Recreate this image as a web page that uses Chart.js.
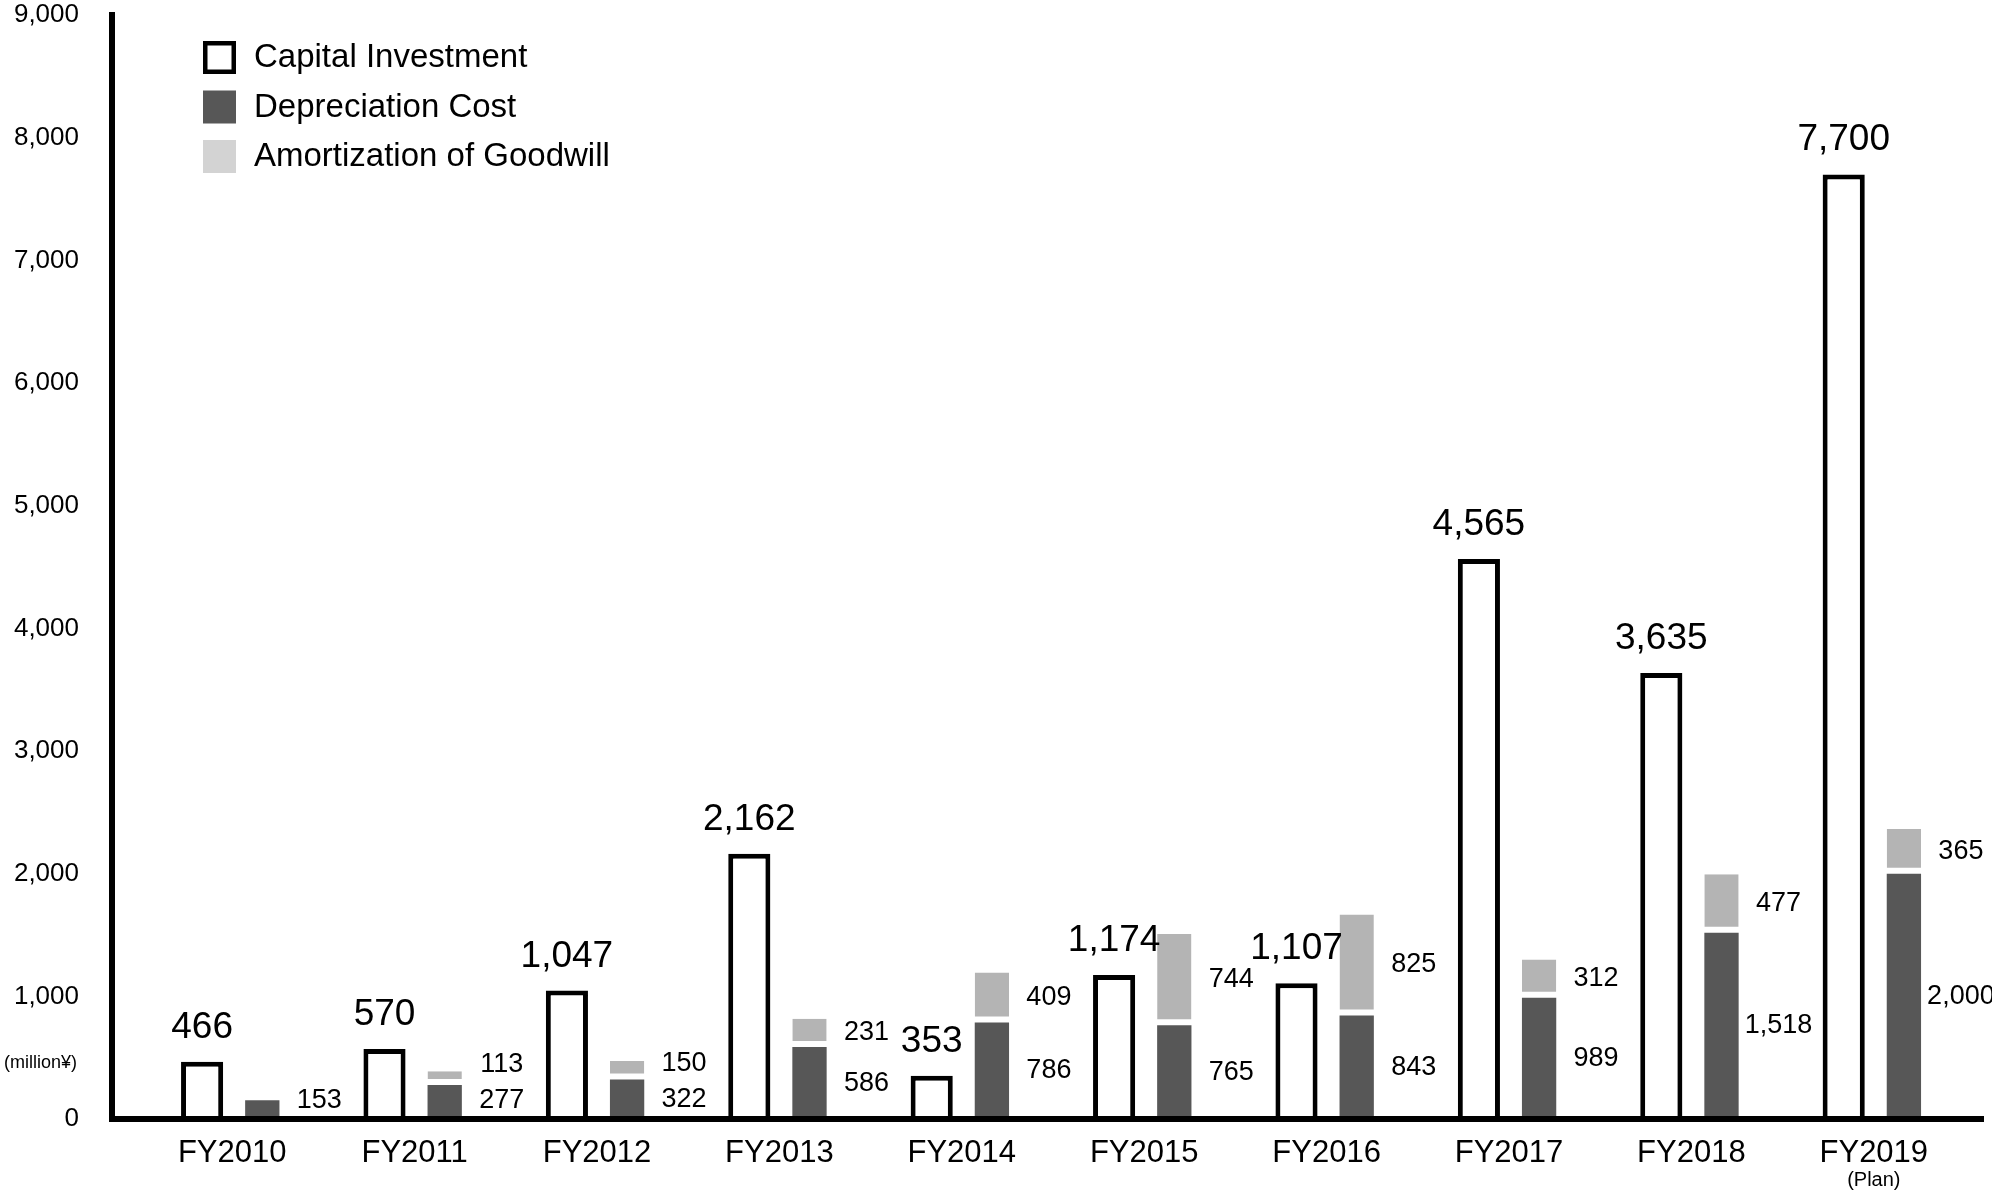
<!DOCTYPE html>
<html>
<head>
<meta charset="utf-8">
<title>Capital Investment / Depreciation Cost / Amortization of Goodwill</title>
<script src="https://cdn.jsdelivr.net/npm/chart.js@4/dist/chart.umd.min.js"></script>
<style>
  html, body { margin: 0; padding: 0; background: #fff; }
  canvas { display: block; }
</style>
</head>
<body>
<canvas id="capex" width="1992" height="1196"></canvas>
<script>
// million yen, by fiscal year
const fiscalYears = ['FY2010', 'FY2011', 'FY2012', 'FY2013', 'FY2014', 'FY2015', 'FY2016', 'FY2017', 'FY2018', 'FY2019'];
const yearNotes = ['', '', '', '', '', '', '', '', '', '(Plan)'];
const capitalInvestment = [466, 570, 1047, 2162, 353, 1174, 1107, 4565, 3635, 7700];
const depreciationCost = [153, 277, 322, 586, 786, 765, 843, 989, 1518, 2000];
const goodwillAmortization = [null, 113, 150, 231, 409, 744, 825, 312, 477, 365];
const yMax = 9000;
const yStep = 1000;
const unitLabel = '(million¥)';

const FONT = '"Liberation Sans", Arial, Helvetica, sans-serif';
const fmt = v => v.toLocaleString('en-US');

Chart.defaults.font.family = FONT;
Chart.defaults.color = '#000';

// thick black axis lines, drawn over the bar bottoms
const axisLines = {
  id: 'axisLines',
  afterDatasetsDraw(chart) {
    const { ctx, chartArea: a } = chart;
    ctx.save();
    ctx.fillStyle = '#000';
    ctx.fillRect(a.left - 32, a.top - 3, 6, a.bottom - a.top + 6);
    ctx.fillRect(a.left - 32, a.bottom - 3, a.right - a.left + 51, 6);
    ctx.restore();
  }
};

// values above / beside the bars, plus unit and plan notes
const valueLabels = {
  id: 'valueLabels',
  afterDraw(chart) {
    const { ctx, chartArea: a, scales } = chart;
    const cap = chart.getDatasetMeta(0).data;
    const dep = chart.getDatasetMeta(1).data;
    const amo = chart.getDatasetMeta(2).data;
    ctx.save();
    ctx.fillStyle = '#000';
    ctx.textAlign = 'center';

    ctx.font = '37px ' + FONT;
    ctx.textBaseline = 'alphabetic';
    cap.forEach((bar, i) => ctx.fillText(fmt(capitalInvestment[i]), bar.x, bar.y - 24));

    ctx.font = '27px ' + FONT;
    ctx.textBaseline = 'middle';
    dep.forEach((bar, i) => {
      const x = bar.x + 57;
      const depY = Math.min((bar.y + bar.base) / 2, a.bottom - 18);
      ctx.fillText(fmt(depreciationCost[i]), x, depY);
      const g = goodwillAmortization[i];
      if (g) {
        const seg = amo[i];
        ctx.fillText(fmt(g), x, Math.min((seg.y + seg.base) / 2, depY - 36));
      }
    });

    ctx.font = '20px ' + FONT;
    yearNotes.forEach((note, i) => {
      if (note) ctx.fillText(note, scales.x.getPixelForValue(i), a.bottom + 61);
    });

    ctx.font = '18px ' + FONT;
    ctx.textAlign = 'right';
    ctx.fillText(unitLabel, a.left - 64, scales.y.getPixelForValue(460));
    ctx.restore();
  }
};

// legend in the upper-left corner of the plot
const cornerLegend = {
  id: 'cornerLegend',
  afterDraw(chart) {
    const { ctx, chartArea: a } = chart;
    const x = a.left + 62;
    ctx.save();
    chart.data.datasets.forEach((ds, i) => {
      const cy = a.top + 42 + i * 49.5;
      if (ds.legendOutline) {
        ctx.fillStyle = '#fff';
        ctx.fillRect(x, cy - 16, 33, 33);
        ctx.strokeStyle = '#000';
        ctx.lineWidth = 4.5;
        ctx.strokeRect(x + 2.25, cy - 13.75, 28.5, 28.5);
      } else {
        ctx.fillStyle = ds.legendColor || ds.backgroundColor;
        ctx.fillRect(x, cy - 16, 33, 33);
      }
      ctx.fillStyle = '#000';
      ctx.font = '33px ' + FONT;
      ctx.textAlign = 'left';
      ctx.textBaseline = 'middle';
      ctx.fillText(ds.label, x + 51, cy + 1);
    });
    ctx.restore();
  }
};

new Chart(document.getElementById('capex').getContext('2d'), {
  type: 'bar',
  data: {
    labels: fiscalYears,
    datasets: [
      {
        label: 'Capital Investment',
        data: capitalInvestment,
        stack: 'capex',
        backgroundColor: '#fff',
        borderColor: '#000',
        borderWidth: 5,
        borderSkipped: 'start',
        barPercentage: 0.7,
        categoryPercentage: 0.66,
        legendOutline: true
      },
      {
        label: 'Depreciation Cost',
        data: depreciationCost,
        stack: 'da',
        backgroundColor: '#575757',
        borderWidth: 0,
        barPercentage: 0.57,
        categoryPercentage: 0.66
      },
      {
        label: 'Amortization of Goodwill',
        data: goodwillAmortization,
        stack: 'da',
        backgroundColor: '#b4b4b4',
        borderColor: '#fff',
        borderWidth: { top: 0, right: 0, bottom: 6, left: 0 },
        borderSkipped: false,
        barPercentage: 0.57,
        categoryPercentage: 0.66,
        legendColor: '#d3d3d3'
      }
    ]
  },
  options: {
    responsive: false,
    animation: false,
    layout: { padding: { top: 15, right: 27, bottom: 0, left: 0 } },
    plugins: {
      legend: { display: false },
      tooltip: { enabled: false }
    },
    scales: {
      x: {
        stacked: true,
        offset: true,
        grid: { display: false },
        border: { display: false },
        ticks: { font: { size: 31 }, padding: 8, color: '#000', maxRotation: 0 },
        afterFit(scale) { scale.height = 77; }
      },
      y: {
        stacked: true,
        min: 0,
        max: yMax,
        grid: { display: false, drawTicks: false },
        border: { display: false },
        ticks: {
          stepSize: yStep,
          font: { size: 26 },
          padding: 62,
          color: '#000',
          callback: v => fmt(v)
        },
        afterFit(scale) {
          // wide gap between labels and plot, without pushing the plot down
          scale.width = 141;
          scale.paddingTop = 0;
          scale.paddingBottom = 0;
        }
      }
    }
  },
  plugins: [axisLines, valueLabels, cornerLegend]
});
</script>
</body>
</html>
